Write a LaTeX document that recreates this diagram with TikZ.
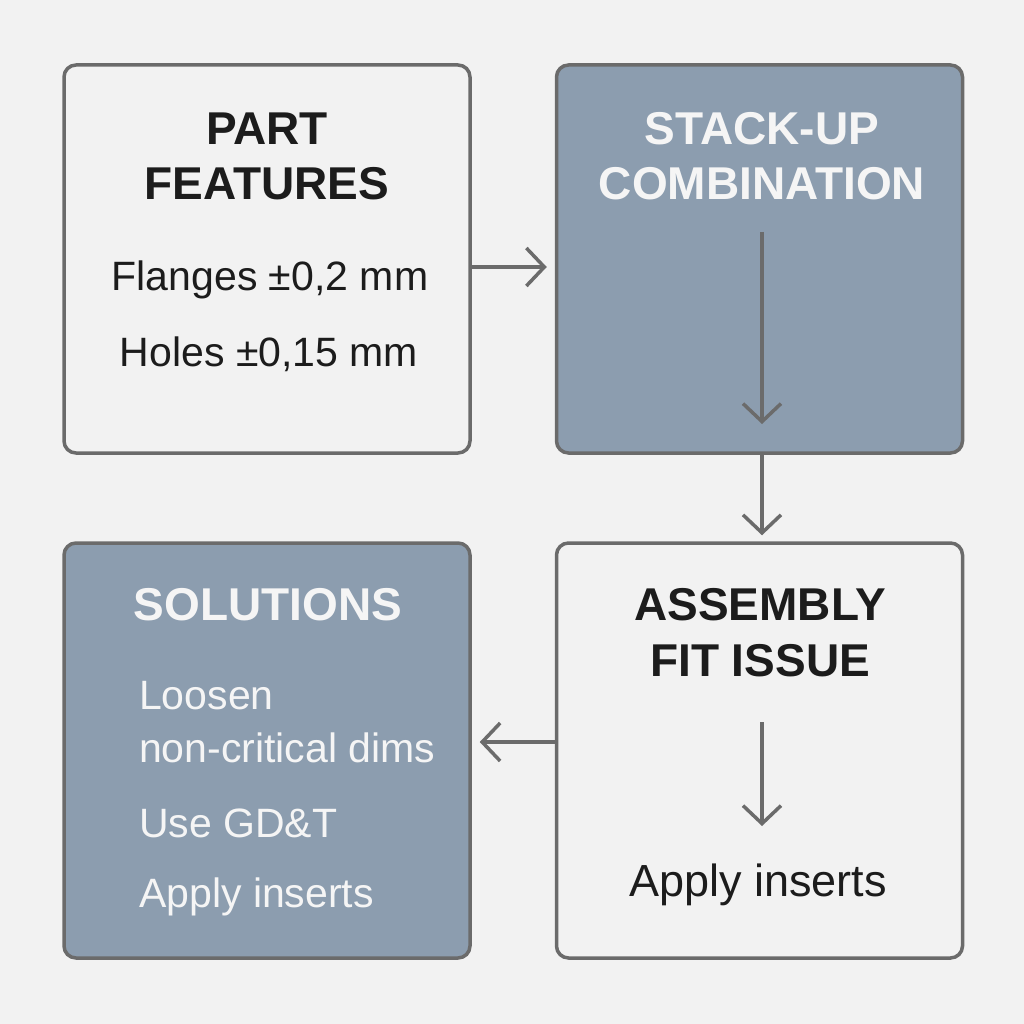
\documentclass[tikz,border=0pt]{standalone}
\usepackage{fontspec}
\setmainfont{Liberation Sans}
\usetikzlibrary{arrows.meta,calc}
\definecolor{bg}{HTML}{F2F2F2}
\definecolor{boxfill}{HTML}{8C9DAF}
\definecolor{edge}{HTML}{6B6B6B}
\definecolor{ink}{HTML}{1C1C1C}
\definecolor{lightink}{HTML}{F5F5F5}
\tikzset{
  panel/.style={draw=edge, line width=3.5pt, rounded corners=12pt, minimum width=406pt, minimum height=388pt, inner sep=0pt},
  darkpanel/.style={panel, fill=boxfill},
  lightpanel/.style={panel, fill=bg},
  ttl/.style={font=\fontsize{46}{56}\selectfont\bfseries, anchor=base, inner sep=0pt},
  txt/.style={font=\fontsize{41}{48}\selectfont, anchor=base, inner sep=0pt},
  bigtxt/.style={font=\fontsize{45}{52}\selectfont, anchor=base, inner sep=0pt},
  arr/.style={draw=edge, line width=3.5pt, -{Straight Barb[length=18pt, width=38pt, line width=3.5pt]}},
}
\begin{document}
\begin{tikzpicture}[x=1pt,y=-1pt]
\fill[bg] (0,0) rectangle (1024,1024);
\useasboundingbox (0,0) rectangle (1024,1024);
% panels
\node[lightpanel] (pf) at (267,259) {};
\node[darkpanel] (sc) at (759.5,259) {};
\node[darkpanel, minimum height=415pt] (so) at (267,750.5) {};
\node[lightpanel, minimum height=415pt] (af) at (759.5,750.5) {};
% texts
\node[ttl, text=ink] (t1) at (267,145) {PART};
\node[ttl, text=ink] (t2) at (267,200) {FEATURES};
\node[txt, text=ink] (l1) at (270,290) {Flanges ±0,2 mm};
\node[txt, text=ink] (l2) at (269,366) {Holes ±0,15 mm};
\node[ttl, text=lightink] (t3) at (762,145) {STACK-UP};
\node[ttl, text=lightink] (t4) at (762,200) {COMBINATION};
\node[ttl, text=lightink] (t5) at (268,620) {SOLUTIONS};
\node[txt, text=lightink, anchor=base west] (s1) at (139,709) {Loosen};
\node[txt, text=lightink, anchor=base west] (s2) at (139,762) {non-critical dims};
\node[txt, text=lightink, anchor=base west] (s3) at (139,837) {Use GD\&T};
\node[txt, text=lightink, anchor=base west] (s4) at (139,907) {Apply inserts};
\node[ttl, text=ink] (t6) at (760,620) {ASSEMBLY};
\node[ttl, text=ink] (t7) at (760,676) {FIT ISSUE};
\node[bigtxt, text=ink] (a1) at (758,896) {Apply inserts};
% connectors
\coordinate (c1) at (762,232);
\coordinate (c2) at (762,424);
\coordinate (c3) at (762,722);
\coordinate (c4) at (762,826);
\draw[arr] (pf.east |- 0,267) -- ($(sc.west |- 0,267)+(-8,0)$);
\draw[arr] (c1) -- (c2);
\draw[arr] (sc.south -| 762,0) -- ($(af.north -| 762,0)+(0,-6)$);
\draw[arr] (af.west |- 0,742) -- ($(so.east |- 0,742)+(8,0)$);
\draw[arr] (c3) -- (c4);
\end{tikzpicture}
\end{document}
